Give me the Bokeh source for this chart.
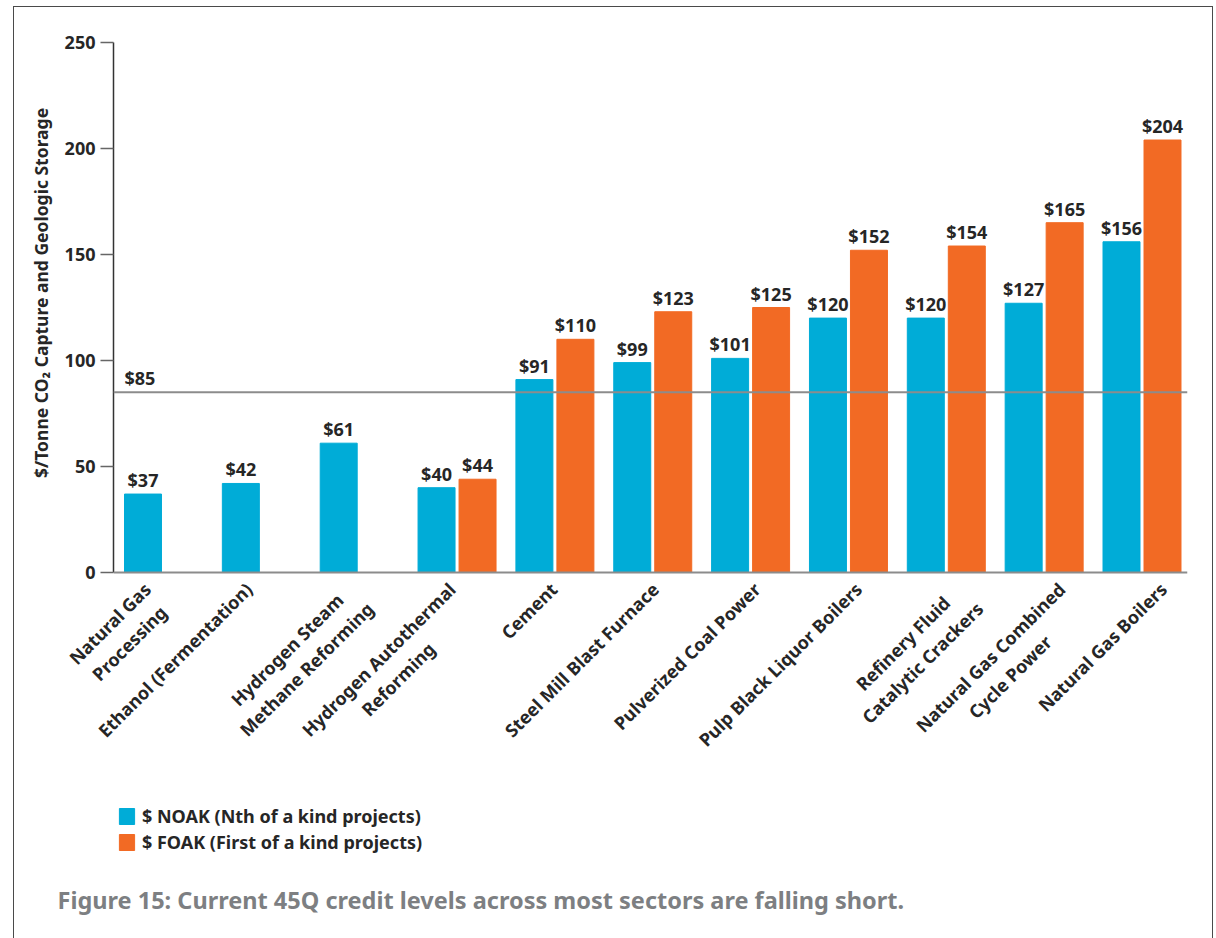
import numpy as np
from bokeh.plotting import figure
from bokeh.layouts import column
from bokeh.models import (Range1d, FixedTicker, Span, Label, LabelSet, Legend, LegendItem,
                          ColumnDataSource)
from bokeh.core.properties import value
from bokeh.embed import file_html
from bokeh.resources import INLINE

# ---------------- data ----------------
categories = [
    "Natural Gas\nProcessing",
    "Ethanol (Fermentation)",
    "Hydrogen Steam\nMethane Reforming",
    "Hydrogen Autothermal\nReforming",
    "Cement",
    "Steel Mill Blast Furnace",
    "Pulverized Coal Power",
    "Pulp Black Liquor Boilers",
    "Refinery Fluid\nCatalytic Crackers",
    "Natural Gas Combined\nCycle Power",
    "Natural Gas Boilers",
]
noak = [37, 42, 61, 40, 91, 99, 101, 120, 120, 127, 156]
foak = [None, None, None, 44, 110, 123, 125, 152, 154, 165, 204]
credit_level = 85
y_ticks = [0, 50, 100, 150, 200, 250]
series_names = ["$ NOAK (Nth of a kind projects)", "$ FOAK (First of a kind projects)"]
y_title = "$/Tonne CO\u2082 Capture and Geologic Storage"
caption = "Figure 15: Current 45Q credit levels across most sectors are falling short."

# ---------------- style ----------------
BLUE = "#00ACD7"
ORANGE = "#F26A24"
DARK = "#262626"
GREY = "#8c8c8c"
FONT = "Noto Sans"
bar_w = 0.378
off = 0.2095

W = 1198
LB, RB = 99, 25
x0, x1 = -0.511, 10.465
px_per_x = (W - LB - RB) / (x1 - x0)

idx = np.arange(len(categories))
noak_src = ColumnDataSource(dict(x=idx - off, top=noak, label=[f"${v}" for v in noak]))
f_idx = [i for i, v in enumerate(foak) if v is not None]
foak_src = ColumnDataSource(dict(x=[i + off for i in f_idx], top=[foak[i] for i in f_idx],
                                 label=[f"${foak[i]}" for i in f_idx]))

# ---------------- main chart ----------------
H1 = 577
p = figure(width=W, height=H1,
           x_range=Range1d(x0, x1), y_range=Range1d(-2.83, 266.51),
           output_backend="svg", toolbar_location=None,
           min_border_left=LB, min_border_right=RB, min_border_top=0, min_border_bottom=6)
p.frame_align = False
p.grid.visible = False
p.outline_line_color = None
p.xaxis.visible = False

ya = p.yaxis[0]
ya.ticker = FixedTicker(ticks=y_ticks)
ya.bounds = (min(y_ticks), max(y_ticks))
ya.minor_tick_line_color = None
ya.major_tick_in = 0
ya.major_tick_out = 13
ya.major_tick_line_color = "#666666"
ya.major_tick_line_width = 1.5
ya.axis_line_color = "#333333"
ya.axis_line_width = 1.5
ya.major_label_standoff = 5
ya.major_label_text_font = FONT
ya.major_label_text_font_style = "bold"
ya.major_label_text_font_size = "18px"
ya.major_label_text_color = DARK
ya.axis_label = y_title
ya.axis_label_standoff = 9
ya.axis_label_text_font = FONT
ya.axis_label_text_font_style = "bold"
ya.axis_label_text_font_size = "17.5px"
ya.axis_label_text_color = DARK

p.add_layout(Span(location=0, dimension="width", line_color=GREY, line_width=2))
p.add_layout(Span(location=credit_level, dimension="width", line_color=GREY, line_width=2))

r1 = p.vbar(x="x", top="top", bottom=0, width=bar_w, color=BLUE, source=noak_src)
r2 = p.vbar(x="x", top="top", bottom=0, width=bar_w, color=ORANGE, source=foak_src)

for src in (noak_src, foak_src):
    p.add_layout(LabelSet(x="x", y="top", text="label", source=src, text_align="center",
                          text_baseline="alphabetic", y_offset=7, text_font=value(FONT),
                          text_font_style="bold", text_font_size="18px", text_color=DARK))

p.add_layout(Label(x=idx[0] - off - bar_w / 2, y=credit_level, y_offset=2, text=f"${credit_level}",
                   text_baseline="bottom", text_font=FONT, text_font_style="bold",
                   text_font_size="18px", text_color=DARK))

# ---------------- category labels, legend, caption ----------------
OVER = 14                      # the label strip overlaps the chart's bottom margin
H2 = 931 - H1 + OVER
label_px = 101.6               # the reference spreads its slanted labels a little wider than the bars
centre_i = 5.5
centre_px = LB + (centre_i - x0) * px_per_x
q = figure(width=W, height=H2,
           x_range=Range1d(centre_i - centre_px / label_px, centre_i + (W - centre_px) / label_px),
           y_range=Range1d(-(H2 - 1), 1),
           output_backend="svg", toolbar_location=None,
           min_border_left=0, min_border_right=0, min_border_top=0, min_border_bottom=0)
q.frame_align = False
q.grid.visible = False
q.axis.visible = False
q.outline_line_color = None
q.background_fill_color = None
q.border_fill_color = None
q.styles = {"margin-top": f"-{OVER}px"}

q.text(x=idx, y=[0] * len(idx), text=categories, angle=np.pi / 4, anchor="top_right",
       text_align="center", x_offset=-4, y_offset=6, text_font=value(FONT),
       text_font_style="bold", text_font_size="18px", text_color=DARK, text_line_height=1.15)

# hidden proxies that carry the series colours into the legend
d1 = q.vbar(x=idx - off, top=noak, width=bar_w, color=BLUE, visible=False)
d2 = q.vbar(x=[i + off for i in f_idx], top=[foak[i] for i in f_idx], width=bar_w,
            color=ORANGE, visible=False)
legend = Legend(items=[LegendItem(label=series_names[0], renderers=[d1]),
                       LegendItem(label=series_names[1], renderers=[d2])],
                location=(103, 84), orientation="vertical", glyph_width=19, glyph_height=20,
                spacing=2, padding=0, margin=0, label_standoff=6, label_height=20,
                label_text_font=FONT, label_text_font_style="bold", label_text_font_size="18px",
                label_text_color=DARK, border_line_color=None, background_fill_alpha=0,
                inactive_fill_alpha=0, click_policy="none")
q.add_layout(legend)

q.add_layout(Label(x=43, y=23, x_units="screen", y_units="screen", text=caption,
                   text_baseline="bottom",
                   text_font=FONT, text_font_style="bold", text_font_size="23.5px",
                   text_color="#7d7f82"))

layout = column(p, q, spacing=0)
layout.styles = {"margin-left": "13px", "margin-top": "6px",
                 "border-left": "1px solid #4a4a4a", "border-right": "1px solid #4a4a4a",
                 "border-top": "1px solid #4a4a4a"}

open("out.html", "w").write(file_html(layout, INLINE))
